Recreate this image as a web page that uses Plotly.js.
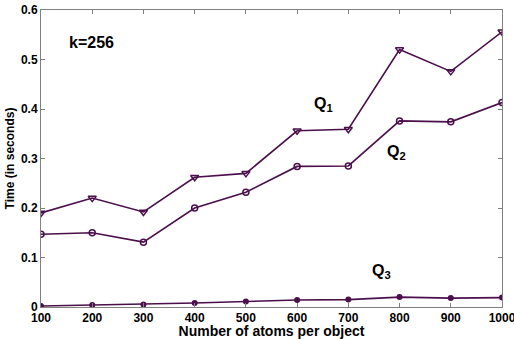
<!DOCTYPE html>
<html>
<head>
<meta charset="utf-8">
<script src="https://cdn.plot.ly/plotly-3.0.1.min.js"></script>
<style>html,body{margin:0;padding:0;background:#fff;}#chart{width:514px;height:339px;}</style>
</head>
<body>
<div id="chart"></div>
<script>
const atoms = [100, 200, 300, 400, 500, 600, 700, 800, 900, 1000];
const q1 = [0.190, 0.220, 0.192, 0.262, 0.270, 0.356, 0.359, 0.520, 0.476, 0.556];
const q2 = [0.147, 0.150, 0.131, 0.200, 0.232, 0.284, 0.285, 0.376, 0.374, 0.413];
const q3 = [0.002, 0.004, 0.005, 0.008, 0.011, 0.014, 0.015, 0.020, 0.018, 0.019];
const xTicks = [100, 200, 300, 400, 500, 600, 700, 800, 900, 1000];
const yTicks = [0, 0.1, 0.2, 0.3, 0.4, 0.5, 0.6];
const yTickText = ['0', '0.1', '0.2', '0.3', '0.4', '0.5', '0.6'];

const col = '#4b0f4b';
const font = 'Liberation Sans, Arial, sans-serif';
const traces = [
  {x: atoms, y: q1, mode: 'lines+markers', line: {color: col, width: 1.6},
   marker: {symbol: 'triangle-down-open', size: 7, color: col, line: {width: 1.5, color: col}}},
  {x: atoms, y: q2, mode: 'lines+markers', line: {color: col, width: 1.6},
   marker: {symbol: 'circle-open', size: 6, color: col, line: {width: 1.5, color: col}}},
  {x: atoms, y: q3, mode: 'lines+markers', line: {color: col, width: 1.6},
   marker: {symbol: 'circle', size: 6, color: col}}
];
const layout = {
  width: 514, height: 339,
  margin: {l: 41, r: 12, t: 10, b: 32},
  paper_bgcolor: '#fff', plot_bgcolor: '#fff',
  showlegend: false,
  font: {family: font, color: '#000'},
  xaxis: {
    range: [100, 1000], tickvals: xTicks, ticktext: xTicks.map(String),
    showgrid: false, zeroline: false, showline: true, linecolor: '#808080', linewidth: 1,
    mirror: 'ticks', ticks: 'inside', ticklen: 4, tickcolor: '#808080',
    ticklabeloverflow: 'allow',
    tickfont: {family: font, size: 12, color: '#000', weight: 'bold'},
    title: {text: '<b>Number of atoms per object</b>', font: {family: font, size: 14, color: '#000'}, standoff: 2}
  },
  yaxis: {
    range: [0, 0.6], tickvals: yTicks, ticktext: yTickText,
    showgrid: false, zeroline: false, showline: true, linecolor: '#808080', linewidth: 1,
    mirror: 'ticks', ticks: 'inside', ticklen: 4, tickcolor: '#808080',
    ticklabeloverflow: 'allow',
    tickfont: {family: font, size: 12, color: '#000', weight: 'bold'},
    title: {text: '<b>Time (in seconds)</b>', font: {family: font, size: 12, color: '#000'}, standoff: 3}
  },
  annotations: [
    {x: 150, y: 0.535, xref: 'x', yref: 'y', xanchor: 'left', yanchor: 'middle', showarrow: false,
     text: '<b>k=256</b>', font: {family: font, size: 16, color: '#000'}},
    {x: 629, y: 0.41, xref: 'x', yref: 'y', xanchor: 'left', yanchor: 'middle', showarrow: false,
     text: '<b>Q<sub>1</sub></b>', font: {family: font, size: 16, color: '#000'}},
    {x: 771, y: 0.313, xref: 'x', yref: 'y', xanchor: 'left', yanchor: 'middle', showarrow: false,
     text: '<b>Q<sub>2</sub></b>', font: {family: font, size: 16, color: '#000'}},
    {x: 743, y: 0.071, xref: 'x', yref: 'y', xanchor: 'left', yanchor: 'middle', showarrow: false,
     text: '<b>Q<sub>3</sub></b>', font: {family: font, size: 16, color: '#000'}}
  ]
};
Plotly.newPlot('chart', traces, layout, {displayModeBar: false, staticPlot: true});
</script>
</body>
</html>
